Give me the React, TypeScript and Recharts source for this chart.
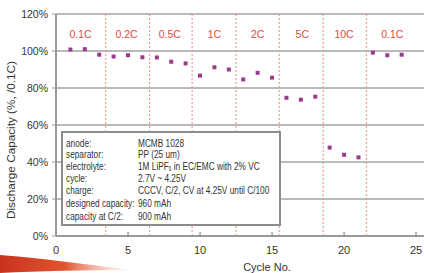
import React from "react";
import {
  ScatterChart,
  Scatter,
  XAxis,
  YAxis,
  CartesianGrid,
  ReferenceLine,
} from "recharts";

const cycles = [1, 2, 3, 4, 5, 6, 7, 8, 9, 10, 11, 12, 13, 14, 15, 16, 17, 18, 19, 20, 21, 22, 23, 24];
const capacity = [100.8, 101.0, 98.0, 97.0, 97.7, 96.6, 96.5, 94.2, 93.3, 86.7, 91.2, 90.0, 84.6, 88.2, 85.6, 74.7, 73.7, 75.3, 47.8, 43.9, 42.5, 99.1, 97.7, 98.0];
const rateLabels = ["0.1C", "0.2C", "0.5C", "1C", "2C", "5C", "10C", "0.1C"];
const rateCenters = [1.7, 4.9, 7.9, 11, 14, 17.1, 20, 23.35];
const rateLabelY = 109;
const dividers = [3.45, 6.5, 9.45, 12.5, 15.5, 18.55, 21.55];
const xTicks = [0, 5, 10, 15, 20, 25];
const yTicks = [0, 20, 40, 60, 80, 100, 120];

const infoLabels = ["anode:", "separator:", "electrolyte:", "cycle:", "charge:", "designed capacity:", "capacity at C/2:"];
const infoValues = ["MCMB 1028", "PP (25 um)", "ELECTROLYTE", "2.7V ~ 4.25V", "CCCV, C/2, CV at 4.25V until C/100", "960 mAh", "900 mAh"];

const points = cycles.map((c, i) => ({ x: c, y: capacity[i] }));
const rateData = rateCenters.map((c, i) => ({ x: c, y: rateLabelY, label: rateLabels[i] }));

const FONT = "'Liberation Sans', Arial, sans-serif";
const GRID = "#a3a3a3";

const Square = (props: any) => {
  const { cx, cy } = props;
  if (cx == null || cy == null) return null;
  return <rect x={cx - 2} y={cy - 2} width={4} height={4} fill="#9b3b8e" />;
};

const RateText = (props: any) => {
  const { cx, cy, payload } = props;
  if (cx == null || cy == null) return null;
  return (
    <text x={cx} y={cy} dy={4} textAnchor="middle" fontFamily={FONT} fontSize={10.5} fill="#e8483f">
      {payload.label}
    </text>
  );
};

const XTick = (props: any) => {
  const { x, y, payload } = props;
  return (
    <g>
      {payload.value !== 0 && <line x1={x} x2={x} y1={y} y2={y - 4} stroke="#777" strokeWidth={1} />}
      <text x={x} y={y + 18} textAnchor="middle" fontFamily={FONT} fontSize={11} fill="#333">
        {payload.value}
      </text>
    </g>
  );
};

const YTick = (props: any) => {
  const { x, y, payload } = props;
  return (
    <text x={x} y={y} dy={4} textAnchor="end" fontFamily={FONT} fontSize={10.5} fill="#333">
      {payload.value}%
    </text>
  );
};

const rowY = [143, 154.5, 166, 178, 190, 203.5, 216.5];
const SX = 0.72;

export default function App() {
  return (
    <div style={{ position: "fixed", left: 0, top: 0, width: 424, height: 273, background: "#fff" }}>
      <ScatterChart width={424} height={273} margin={{ top: 14, right: 0, bottom: 0, left: 0 }}>
        <CartesianGrid horizontal={true} vertical={false} stroke={GRID} strokeWidth={1.5} />
        <XAxis
          type="number"
          dataKey="x"
          domain={[0, 25.55]}
          ticks={xTicks}
          height={37}
          axisLine={{ stroke: "#999", strokeWidth: 2 }}
          tickLine={false}
          tickSize={0}
          tickMargin={0}
          tick={<XTick />}
          allowDataOverflow
        />
        <YAxis
          type="number"
          dataKey="y"
          domain={[0, 120]}
          ticks={yTicks}
          width={56}
          axisLine={{ stroke: "#999", strokeWidth: 2 }}
          tickLine={{ stroke: "#999" }}
          tickSize={4}
          tickMargin={4}
          tick={<YTick />}
          allowDataOverflow
        />
        {dividers.map((d, i) => (
          <ReferenceLine key={i} x={d} stroke="#f08a86" strokeWidth={1} strokeDasharray="2 2" ifOverflow="extendDomain" />
        ))}
        <Scatter data={points} shape={<Square />} isAnimationActive={false} />
        <Scatter data={rateData} shape={<RateText />} isAnimationActive={false} />
      </ScatterChart>
      <svg width={424} height={273} style={{ position: "absolute", left: 0, top: 0, pointerEvents: "none" }}>
        <defs>
          <linearGradient id="swoosh" x1="0" y1="0" x2="1" y2="0">
            <stop offset="0" stopColor="#c8321f" />
            <stop offset="0.5" stopColor="#e0552f" />
            <stop offset="1" stopColor="#f7c9b5" stopOpacity="0.2" />
          </linearGradient>
        </defs>
        <path d="M0,255 C40,258 85,264 130,270 C85,270 40,271 0,273 Z" fill="url(#swoosh)" />
        <text
          transform="translate(15,140) rotate(-90)"
          textAnchor="middle"
          fontFamily={FONT}
          fontSize={11}
          fill="#333"
          textLength={158}
          lengthAdjust="spacingAndGlyphs"
        >
          Discharge Capacity (%, /0.1C)
        </text>
        <text x={267} y={271} textAnchor="middle" fontFamily={FONT} fontSize={11} fill="#333">
          Cycle No.
        </text>
        <rect x={62} y={132} width={218} height={93} fill="#fff" stroke="#8c8c8c" strokeWidth={2} />
        <g transform={`translate(66 0) scale(${SX} 1)`}>
          {infoLabels.map((l, i) => (
            <text key={"l" + i} x={0} y={rowY[i]} dy={4} fontFamily={FONT} fontSize={11.5} fill="#333">
              {l}
            </text>
          ))}
          {infoValues.map((v, i) => (
            <text key={"v" + i} x={(138 - 66) / SX} y={rowY[i]} dy={4} fontFamily={FONT} fontSize={11.5} fill="#333">
              {v === "ELECTROLYTE" ? (
                <>
                  1M LiPF
                  <tspan fontSize={6.5} dy={1.5}>6</tspan>
                  <tspan dy={-1.5}> in EC/EMC with 2% VC</tspan>
                </>
              ) : (
                v
              )}
            </text>
          ))}
        </g>
      </svg>
    </div>
  );
}
